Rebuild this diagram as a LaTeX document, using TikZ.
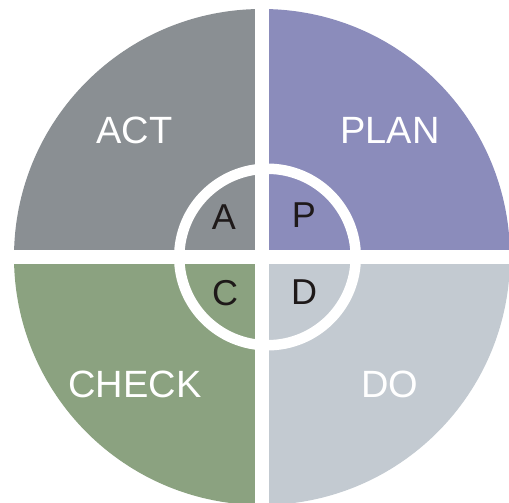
\documentclass[tikz,border=0pt]{standalone}
\usepackage{fontspec}
\setmainfont{Liberation Sans}
\definecolor{actc}{RGB}{138,143,147}
\definecolor{planc}{RGB}{139,140,187}
\definecolor{checkc}{RGB}{139,162,128}
\definecolor{doc}{RGB}{195,202,209}
\definecolor{inkc}{RGB}{30,25,25}
\begin{document}
\begin{tikzpicture}[x=1pt,y=-1pt,
  biglabel/.style={text=white,font=\fontsize{38}{40}\selectfont,inner sep=0pt},
  smalllabel/.style={text=inkc,font=\fontsize{36}{38}\selectfont,inner sep=0pt}]
\useasboundingbox (0,0) rectangle (509,503);
\clip (0,0) rectangle (509,503);
\coordinate (o) at (262,257);
\fill[actc] (o) -- (14,257) arc[start angle=180,end angle=90,x radius=248,y radius=-248] -- cycle;
\fill[planc] (o) -- (262,9) arc[start angle=90,end angle=0,x radius=248,y radius=-248] -- cycle;
\fill[doc] (o) -- (510,257) arc[start angle=0,end angle=-90,x radius=248,y radius=-248] -- cycle;
\fill[checkc] (o) -- (262,505) arc[start angle=-90,end angle=-180,x radius=248,y radius=-248] -- cycle;
\draw[white,line width=10.5pt] (267.5,257) circle[radius=88.25];
\fill[white] (255,0) rectangle (269,503);
\fill[white] (0,250) rectangle (509,264);
\node[biglabel] (act) at (134.5,130) {ACT};
\node[biglabel] (plan) at (390,130) {PLAN};
\node[biglabel] (check) at (135,384) {CHECK};
\node[biglabel] (do) at (390,384) {DO};
\node[smalllabel] (a) at (224,217) {A};
\node[smalllabel] (p) at (304,215) {P};
\node[smalllabel] (c) at (225,293) {C};
\node[smalllabel] (d) at (304,292) {D};
\end{tikzpicture}
\end{document}
